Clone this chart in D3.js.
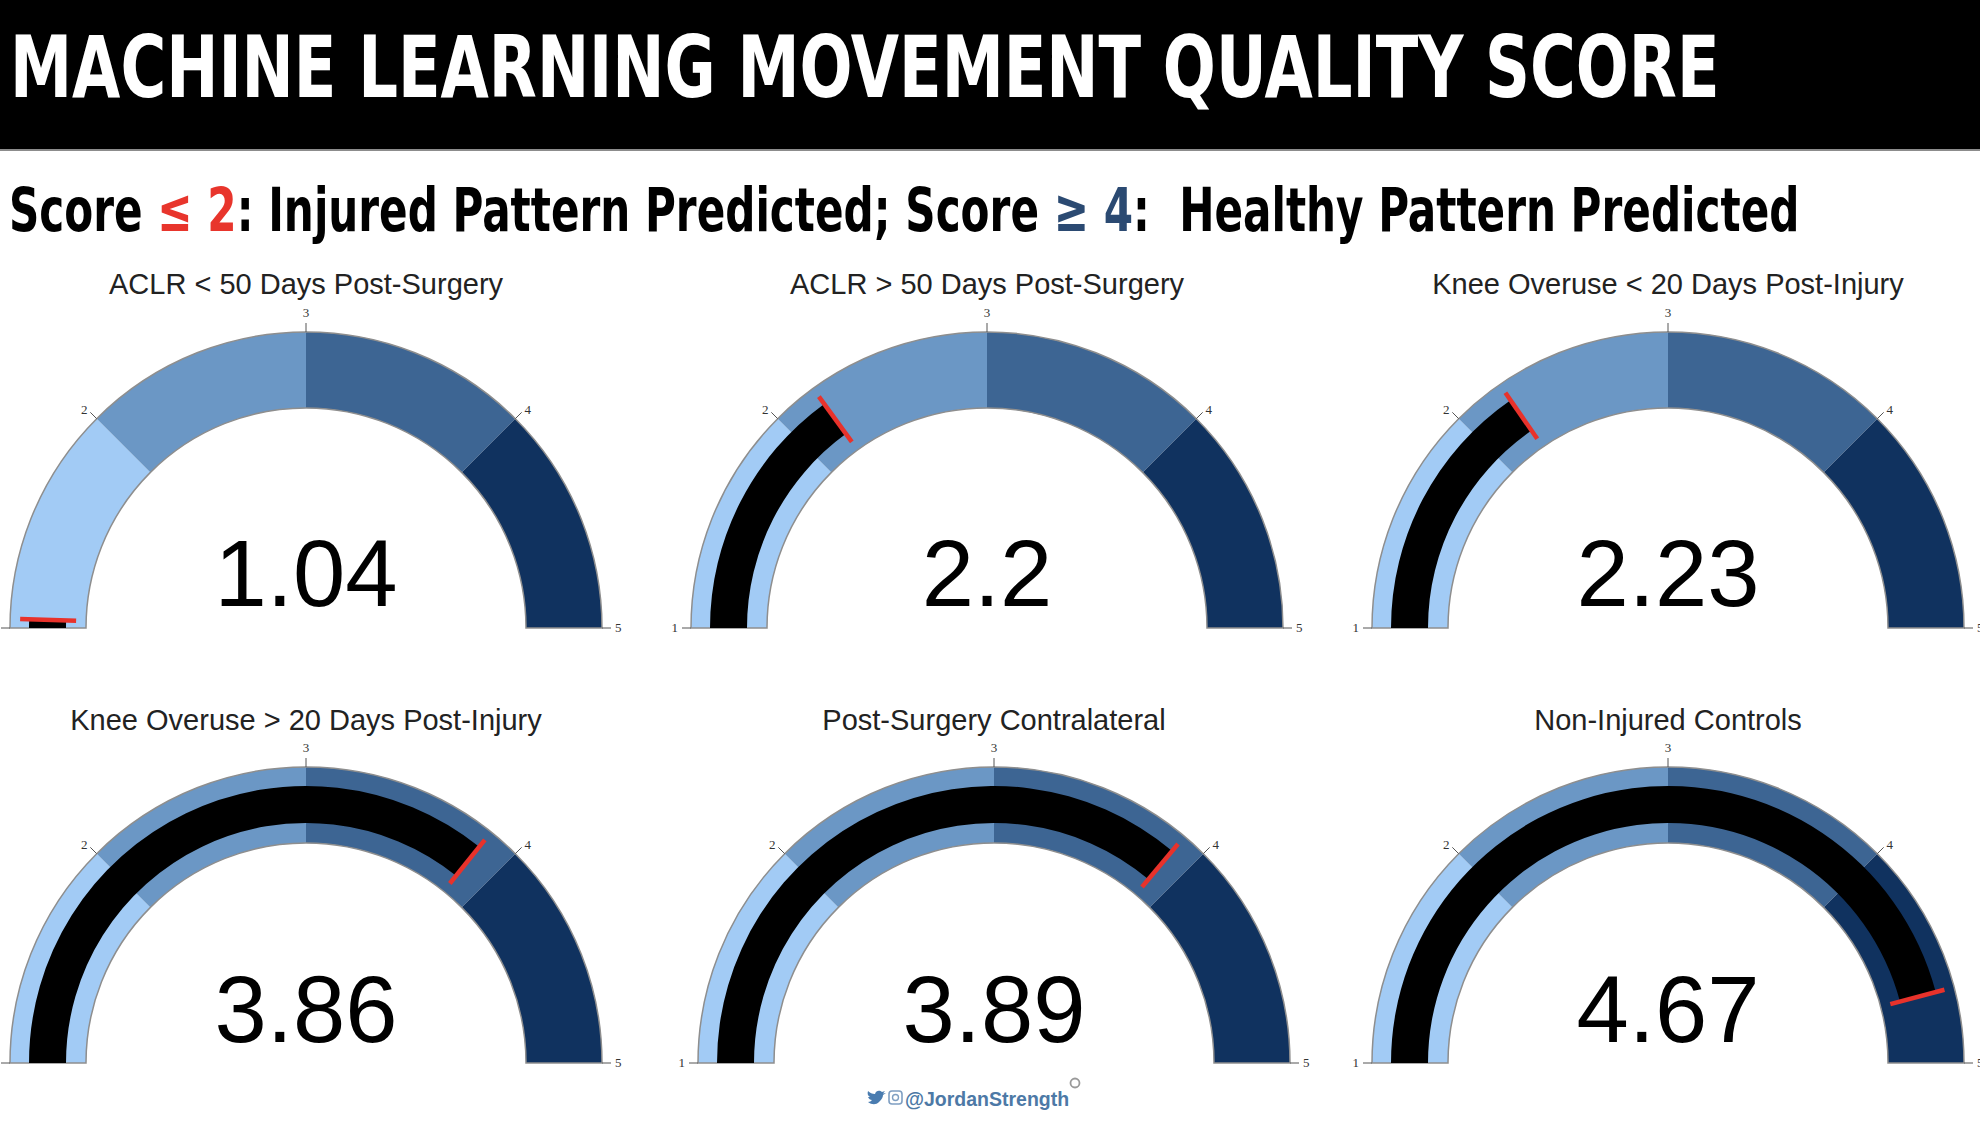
<!DOCTYPE html>
<html>
<head>
<meta charset="utf-8">
<script src="https://cdn.jsdelivr.net/npm/d3@7"></script>
<style>
  html, body { margin: 0; padding: 0; background: #fff; }
  svg { display: block; }
</style>
</head>
<body>
<script>
const titles = [
  "ACLR < 50 Days Post-Surgery",
  "ACLR > 50 Days Post-Surgery",
  "Knee Overuse < 20 Days Post-Injury",
  "Knee Overuse > 20 Days Post-Injury",
  "Post-Surgery Contralateral",
  "Non-Injured Controls"
];
const scores = [1.04, 2.2, 2.23, 3.86, 3.89, 4.67];
const bandEdges = [1, 2, 3, 4, 5];
const bandColors = ["#a2cbf5", "#6b97c5", "#3d6593", "#10325f"];
const tickValues = [1, 2, 3, 4, 5];

const width = 1980;
const height = 1124;

const svg = d3.select("body")
  .append("svg")
  .attr("width", width)
  .attr("height", height);

// Header bar
svg.append("rect")
  .attr("width", width)
  .attr("height", 149)
  .attr("fill", "#000");
svg.append("rect")
  .attr("y", 149)
  .attr("width", width)
  .attr("height", 2)
  .attr("fill", "#8c8c8c");

// squeeze condensed text to the wanted width
function fitText(sel, x, y, targetWidth) {
  const w = sel.node().getComputedTextLength();
  sel.attr("transform", `translate(${x},${y}) scale(${targetWidth / w},1)`);
}

const title = svg.append("text")
  .attr("font-family", "'Liberation Sans Narrow', 'DejaVu Sans Condensed', sans-serif")
  .attr("font-weight", "bold")
  .attr("font-size", 86)
  .attr("fill", "#fff")
  .text("MACHINE LEARNING MOVEMENT QUALITY SCORE");
fitText(title, 10, 97, 1710);

const sub = svg.append("text")
  .attr("font-family", "'Liberation Sans Narrow', 'DejaVu Sans Condensed', sans-serif")
  .attr("font-weight", "bold")
  .attr("font-size", 61)
  .attr("fill", "#000");
sub.append("tspan").text("Score ");
sub.append("tspan").attr("fill", "#e8352c").text("\u2264 2");
sub.append("tspan").text(": Injured Pattern Predicted; Score ");
sub.append("tspan").attr("fill", "#2b4a72").text("\u2265 4");
sub.append("tspan").attr("xml:space", "preserve").text(":\u00a0 Healthy Pattern Predicted");
fitText(sub, 9, 231, 1791);

// Gauges
const rOuter = 296, rInner = 220;
const rBarIn = 240, rBarOut = 277;
const rNeedleIn = 230, rNeedleOut = 286;

const angle = d3.scaleLinear().domain([1, 5]).range([-Math.PI / 2, Math.PI / 2]);

const centers = [
  [306, 628], [987, 628], [1668, 628],
  [306, 1063], [994, 1063], [1668, 1063]
];

const bandArc = d3.arc().innerRadius(rInner).outerRadius(rOuter);
const barArc = d3.arc().innerRadius(rBarIn).outerRadius(rBarOut);

const polar = (r, v) => [r * Math.sin(angle(v)), -r * Math.cos(angle(v))];

const bands = d3.range(bandColors.length).map(i => ({
  lo: bandEdges[i], hi: bandEdges[i + 1], color: bandColors[i]
}));

titles.forEach((t, i) => {
  const [cx, cy] = centers[i];
  const g = svg.append("g").attr("transform", `translate(${cx},${cy})`);

  g.append("text")
    .attr("y", i < 3 ? -334 : -333)
    .attr("text-anchor", "middle")
    .attr("font-family", "Arial, 'Liberation Sans', sans-serif")
    .attr("font-size", 29)
    .attr("fill", "#222")
    .text(t);

  g.selectAll("path.band")
    .data(bands)
    .join("path")
    .attr("class", "band")
    .attr("d", d => bandArc({ startAngle: angle(d.lo), endAngle: angle(d.hi) }))
    .attr("fill", d => d.color);

  g.append("path")
    .attr("d", bandArc({ startAngle: angle(1), endAngle: angle(5) }))
    .attr("fill", "none")
    .attr("stroke", "#8e8e8e")
    .attr("stroke-width", 1.5);

  // ticks + labels
  tickValues.forEach(v => {
    const [x1, y1] = polar(rOuter, v);
    const [x2, y2] = polar(rOuter + 9, v);
    g.append("line")
      .attr("x1", x1).attr("y1", y1)
      .attr("x2", x2).attr("y2", y2)
      .attr("stroke", "#555")
      .attr("stroke-width", 1);
    const [lx, ly] = polar(rOuter + 13, v);
    g.append("text")
      .attr("x", lx)
      .attr("y", v === 3 ? ly - 2 : ly + 4)
      .attr("text-anchor", v < 3 ? "end" : v > 3 ? "start" : "middle")
      .attr("font-family", "'Liberation Serif', 'DejaVu Serif', serif")
      .attr("font-size", 13)
      .attr("fill", "#333")
      .text(v);
  });

  // value bar
  g.append("path")
    .attr("d", barArc({ startAngle: angle(1), endAngle: angle(scores[i]) }))
    .attr("fill", "#000");

  const [nx1, ny1] = polar(rNeedleIn, scores[i]);
  const [nx2, ny2] = polar(rNeedleOut, scores[i]);
  g.append("line")
    .attr("x1", nx1).attr("y1", ny1)
    .attr("x2", nx2).attr("y2", ny2)
    .attr("stroke", "#e8322b")
    .attr("stroke-width", 4.5);

  g.append("text")
    .attr("y", i < 3 ? -22 : -21)
    .attr("text-anchor", "middle")
    .attr("font-family", "Arial, 'Liberation Sans', sans-serif")
    .attr("font-size", 94)
    .attr("fill", "#000")
    .text(String(scores[i]));
});

// Footer handle
const foot = svg.append("g").attr("transform", "translate(0,0)");
// bird
foot.append("path")
  .attr("d", "M868,1094 C872,1097 876,1097 879,1094 C882,1091 883,1089 883,1087 L886,1085 L883,1085.5 L885,1083 L882,1084 C880,1082 876,1082 875,1086 C872,1086 870,1085 868,1083 C867,1086 868,1088 870,1089 L868,1089 C869,1091 870,1092 872,1092 C871,1093 870,1094 868,1094 Z")
  .attr("transform", "translate(0,8)")
  .attr("fill", "#4a7cb0");
// instagram-ish square
foot.append("rect")
  .attr("x", 889).attr("y", 1091)
  .attr("width", 13).attr("height", 13)
  .attr("rx", 3)
  .attr("fill", "none")
  .attr("stroke", "#7f9fc2")
  .attr("stroke-width", 1.6);
foot.append("circle")
  .attr("cx", 895.5).attr("cy", 1097.5).attr("r", 3)
  .attr("fill", "none")
  .attr("stroke", "#7f9fc2")
  .attr("stroke-width", 1.4);
foot.append("text")
  .attr("x", 905)
  .attr("y", 1106)
  .attr("font-family", "Arial, 'Liberation Sans', sans-serif")
  .attr("font-weight", "bold")
  .attr("font-size", 19.5)
  .attr("fill", "#4d79a6")
  .text("@JordanStrength");
foot.append("circle")
  .attr("cx", 1075).attr("cy", 1083).attr("r", 4.5)
  .attr("fill", "none")
  .attr("stroke", "#9a9a9a")
  .attr("stroke-width", 1.8);
</script>
</body>
</html>
